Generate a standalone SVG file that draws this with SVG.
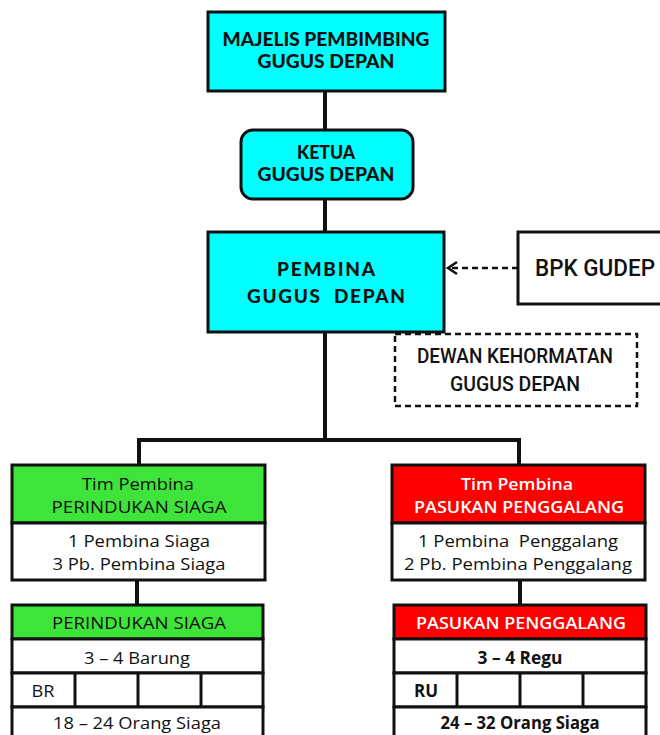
<svg xmlns="http://www.w3.org/2000/svg" width="660" height="735" viewBox="0 0 660 735">
<style>
.box{stroke:#111;stroke-width:3;}
.cy{fill:#00FFFF;}
.gr{fill:#3FE43A;}
.rd{fill:#FF0000;}
.wh{fill:#fff;}
.dash{fill:#fff;stroke:#111;stroke-width:2.5;stroke-dasharray:6 4;}
.ln{stroke:#111;stroke-width:4;fill:none;}
.h{font-family:Lato,"DejaVu Sans",sans-serif;font-weight:900;fill:#111;text-anchor:middle;}
.c{font-family:Roboto,"Liberation Sans",sans-serif;font-weight:500;fill:#111;text-anchor:middle;}
.b{font-family:"Open Sans","Noto Sans",sans-serif;fill:#111;text-anchor:middle;font-size:17px;font-weight:500;}
.bw{fill:#fff;font-weight:600;}
.bb{font-weight:700;}
.pre{white-space:pre;}
</style>
<g id="connectors">
<line class="ln" x1="325" y1="91" x2="325" y2="130"/>
<line class="ln" x1="325" y1="199" x2="325" y2="232"/>
<line class="ln" x1="325" y1="332" x2="325" y2="440"/>
<polyline class="ln" points="139,465 139,440 519,440 519,465"/>
<line class="ln" x1="137" y1="580" x2="137" y2="605"/>
<line class="ln" x1="520" y1="580" x2="520" y2="605"/>
</g>
<g id="majelis">
<rect class="box cy" x="208" y="12" width="237" height="79"/>
<text class="h" x="326" y="46" font-size="18" textLength="207" lengthAdjust="spacingAndGlyphs">MAJELIS PEMBIMBING</text>
<text class="h" x="326" y="68" font-size="18" textLength="137" lengthAdjust="spacingAndGlyphs">GUGUS DEPAN</text>
</g>
<g id="ketua">
<rect class="box cy" x="241" y="130" width="172" height="69" rx="12"/>
<text class="h" x="326" y="159" font-size="18" textLength="58" lengthAdjust="spacingAndGlyphs">KETUA</text>
<text class="h" x="326" y="181" font-size="18" textLength="137" lengthAdjust="spacingAndGlyphs">GUGUS DEPAN</text>
</g>
<g id="pembina">
<rect class="box cy" x="208" y="232" width="236" height="100"/>
<text class="h" x="326" y="276" font-size="19" textLength="98">PEMBINA</text>
<text class="h pre" x="326" y="303" font-size="19" textLength="158">GUGUS  DEPAN</text>
</g>
<g id="bpk">
<rect class="box wh" x="518" y="232" width="150" height="72"/>
<text class="c" x="595" y="276" font-size="23" textLength="120" lengthAdjust="spacingAndGlyphs">BPK GUDEP</text>
</g>
<g id="dewan">
<rect class="dash" x="395" y="334" width="242" height="72"/>
<text class="c" x="515" y="363" font-size="20" textLength="196" lengthAdjust="spacingAndGlyphs">DEWAN KEHORMATAN</text>
<text class="c" x="515" y="391" font-size="20" textLength="130" lengthAdjust="spacingAndGlyphs">GUGUS DEPAN</text>
</g>
<g id="arrow">
<line x1="518" y1="268" x2="450" y2="268" stroke="#111" stroke-width="2.5" stroke-dasharray="6 4"/>
<path d="M457,262 L448,268 L457,274" fill="none" stroke="#111" stroke-width="2.5"/>
</g>
<g id="tim-siaga">
<rect class="box gr" x="12" y="465" width="253" height="58"/>
<rect class="box wh" x="12" y="523" width="253" height="57"/>
<text class="b" x="138" y="490" textLength="112" lengthAdjust="spacingAndGlyphs">Tim Pembina</text>
<text class="b" x="139" y="513" textLength="175" lengthAdjust="spacingAndGlyphs">PERINDUKAN SIAGA</text>
<text class="b" x="139" y="547" textLength="142" lengthAdjust="spacingAndGlyphs">1 Pembina Siaga</text>
<text class="b" x="139" y="570" textLength="173" lengthAdjust="spacingAndGlyphs">3 Pb. Pembina Siaga</text>
</g>
<g id="perindukan">
<rect class="box gr" x="12" y="605" width="251" height="34"/>
<rect class="box wh" x="12" y="639" width="251" height="34"/>
<rect class="box wh" x="12" y="673" width="251" height="34"/>
<line class="box" x1="75" y1="673" x2="75" y2="707"/>
<line class="box" x1="138" y1="673" x2="138" y2="707"/>
<line class="box" x1="201" y1="673" x2="201" y2="707"/>
<rect class="box wh" x="12" y="707" width="251" height="40"/>
<text class="b" x="139" y="629" textLength="174" lengthAdjust="spacingAndGlyphs">PERINDUKAN SIAGA</text>
<text class="b" x="137" y="664" textLength="106" lengthAdjust="spacingAndGlyphs">3 – 4 Barung</text>
<text class="b" x="43" y="697" textLength="23" lengthAdjust="spacingAndGlyphs">BR</text>
<text class="b" x="137" y="729" textLength="168" lengthAdjust="spacingAndGlyphs">18 – 24 Orang Siaga</text>
</g>
<g id="tim-penggalang">
<rect class="box rd" x="392" y="465" width="253" height="58"/>
<rect class="box wh" x="392" y="523" width="253" height="57"/>
<text class="b bw" x="517" y="490" textLength="112" lengthAdjust="spacingAndGlyphs">Tim Pembina</text>
<text class="b bw" x="519" y="513" textLength="210" lengthAdjust="spacingAndGlyphs">PASUKAN PENGGALANG</text>
<text class="b pre" x="518" y="547" textLength="200" lengthAdjust="spacingAndGlyphs">1 Pembina  Penggalang</text>
<text class="b" x="518" y="570" textLength="228" lengthAdjust="spacingAndGlyphs">2 Pb. Pembina Penggalang</text>
</g>
<g id="pasukan">
<rect class="box rd" x="394" y="605" width="252" height="34"/>
<rect class="box wh" x="394" y="639" width="252" height="34"/>
<rect class="box wh" x="394" y="673" width="252" height="34"/>
<line class="box" x1="457" y1="673" x2="457" y2="707"/>
<line class="box" x1="520" y1="673" x2="520" y2="707"/>
<line class="box" x1="583" y1="673" x2="583" y2="707"/>
<rect class="box wh" x="394" y="707" width="252" height="40"/>
<text class="b bw" x="521" y="629" textLength="210" lengthAdjust="spacingAndGlyphs">PASUKAN PENGGALANG</text>
<text class="b bb" x="520" y="664" textLength="85" lengthAdjust="spacingAndGlyphs">3 – 4 Regu</text>
<text class="b bb" x="426" y="697" textLength="24" lengthAdjust="spacingAndGlyphs">RU</text>
<text class="b bb" x="520" y="729" textLength="159" lengthAdjust="spacingAndGlyphs">24 – 32 Orang Siaga</text>
</g>
</svg>
